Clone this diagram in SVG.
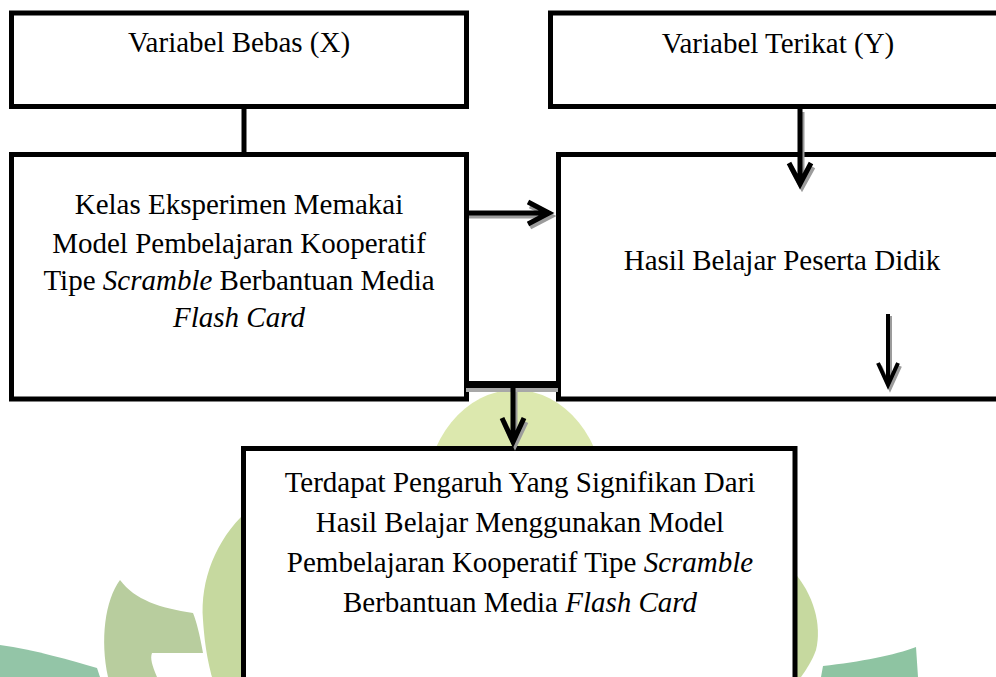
<svg xmlns="http://www.w3.org/2000/svg" width="996" height="677" viewBox="0 0 996 677">
  <style>
    .box { fill: #ffffff; stroke: #000000; stroke-width: 5; }
    .lbl { font-family: "Liberation Serif", "Times New Roman", serif; font-size: 29px; fill: #000000; text-anchor: middle; }
    .it { font-style: italic; }
    .wire { fill: none; stroke: #000000; stroke-width: 5; stroke-linejoin: miter; stroke-linecap: butt; }
    .shade { fill: none; stroke: #9c9c9c; stroke-width: 5; stroke-linejoin: miter; }
  </style>

  <!-- faint emblem in the background -->
  <g id="emblem">
    <ellipse cx="515" cy="500" rx="90" ry="110" fill="#dce8ae"/>
    <path d="M 246 512 C 216 540 200 580 203 620 C 205 650 209 665 212 677 L 250 677 L 250 512 Z" fill="#c6d99f"/>
    <path d="M 792 570 C 814 594 822 625 816 650 C 812 661 806 670 801 677 L 790 677 L 790 570 Z" fill="#c6d99f"/>
    <path d="M 120 580 C 105 600 100 640 108 677 L 157 677 C 152 665 150 658 152 653 L 203 653 C 200 635 196 620 193 613 C 160 608 135 600 120 580 Z" fill="#b8cd9e"/>
    <path d="M 0 645 C 35 650 70 660 97 668 L 100 677 L 0 677 Z" fill="#93c5a7"/>
    <path d="M 821 677 L 823 666 C 860 662 895 655 916 647 L 918 677 Z" fill="#8ec4a2"/>
  </g>

  <g id="node-x">
    <rect class="box" x="11.5" y="13" width="455" height="93.5"/>
    <text class="lbl" x="239" y="52">Variabel Bebas (X)</text>
  </g>

  <g id="node-y">
    <rect class="box" x="550.5" y="13" width="460" height="93.5"/>
    <text class="lbl" x="778" y="53">Variabel Terikat (Y)</text>
  </g>

  <g id="node-experiment">
    <rect class="box" x="11.5" y="154.5" width="455" height="244.5"/>
    <text class="lbl" x="239" y="214">Kelas Eksperimen Memakai</text>
    <text class="lbl" x="239" y="252.5">Model Pembelajaran Kooperatif</text>
    <text class="lbl" x="239" y="290">Tipe <tspan class="it">Scramble</tspan> Berbantuan Media</text>
    <text class="lbl it" x="239" y="327">Flash Card</text>
  </g>

  <g id="node-result">
    <rect class="box" x="558.5" y="154.5" width="460" height="244.5"/>
    <text class="lbl" x="782" y="270">Hasil Belajar Peserta Didik</text>
  </g>

  <g id="node-conclusion">
    <rect class="box" x="243.5" y="448.5" width="551.5" height="260"/>
    <text class="lbl" x="520" y="492">Terdapat Pengaruh Yang Signifikan Dari</text>
    <text class="lbl" x="520" y="532">Hasil Belajar Menggunakan Model</text>
    <text class="lbl" x="520" y="572">Pembelajaran Kooperatif Tipe <tspan class="it">Scramble</tspan></text>
    <text class="lbl" x="520" y="612">Berbantuan Media <tspan class="it">Flash Card</tspan></text>
  </g>

  <!-- connectors, drawn over the boxes so the heads show inside them -->
  <g id="connectors">
    <!-- X box to experiment box -->
    <line class="wire" x1="244" y1="108" x2="244" y2="153"/>
    <!-- experiment box to result box -->
    <path class="shade" d="M 469 216 H 549 M 530 206 L 551 216 L 530 227"/>
    <path class="wire" d="M 469 213 H 547 M 528 202 L 549 213 L 528 224"/>
    <!-- Y box to result box -->
    <path class="shade" d="M 802 112 V 184 M 791 167 L 802 187 L 813 167"/>
    <path class="wire" d="M 800 108 V 182 M 789 163 L 800 184 L 811 163"/>
    <!-- arrow inside result box -->
    <path class="shade" d="M 890 316 V 386 M 880 366 L 890 388 L 900 366" style="stroke-width:4"/>
    <path class="wire" d="M 888 314 V 384 M 878 363 L 888 385 L 898 363" style="stroke-width:4"/>
    <!-- joining bar and arrow to conclusion -->
    <rect x="466" y="388" width="92" height="4" fill="#a8a8a8"/>
    <rect x="466" y="381" width="92" height="7" fill="#000000"/>
    <path class="shade" d="M 515 392 V 442 M 504 422 L 515 445 L 526 422"/>
    <path class="wire" d="M 513 388 V 440 M 502 418 L 513 442 L 524 418"/>
  </g>
</svg>
